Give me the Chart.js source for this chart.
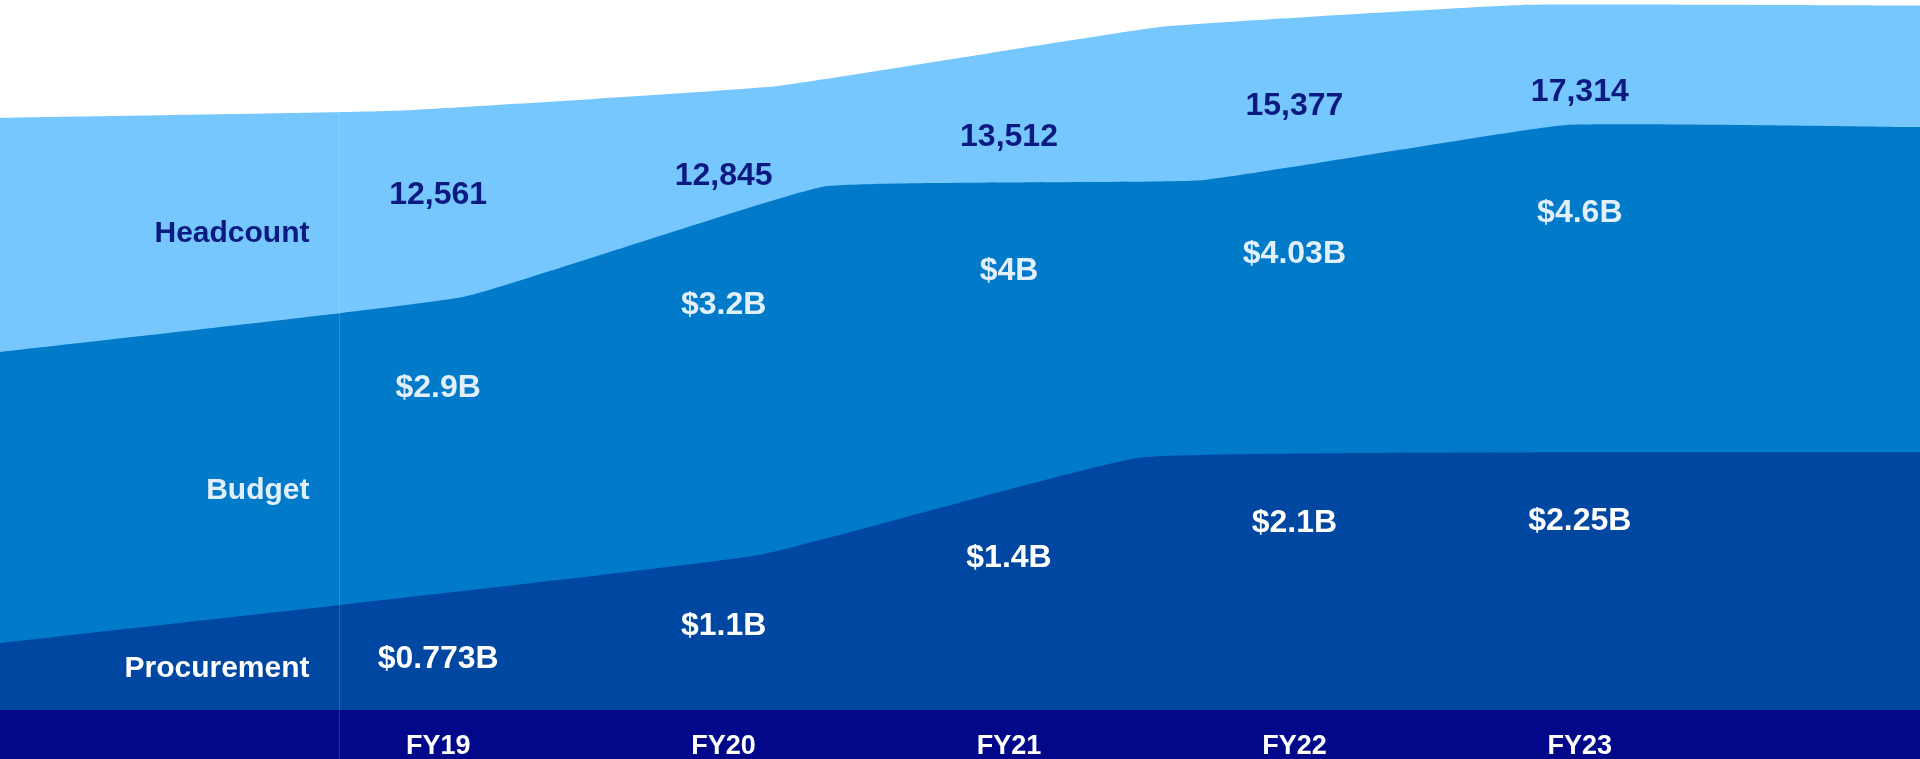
<!DOCTYPE html>
<html>
<head>
<meta charset="utf-8">
<script src="https://cdn.jsdelivr.net/npm/chart.js@4.4.1/dist/chart.umd.min.js"></script>
<style>
  html, body { margin: 0; padding: 0; background: #fff; }
  #wrap { width: 1920px; height: 759px; position: relative; }
</style>
</head>
<body>
<div id="wrap"><canvas id="fy-chart"></canvas></div>
<script>
// fiscal years along the bottom band (tick value 19..23)
const fiscalYears = ['FY19', 'FY20', 'FY21', 'FY22', 'FY23'];
const yearTicks = [19, 20, 21, 22, 23];

// values printed inside each band
const headcountValues = [12561, 12845, 13512, 15377, 17314];
const budgetValues = [2.9, 3.2, 4, 4.03, 4.6];            // $B
const procurementValues = [0.773, 1.1, 1.4, 2.1, 2.25];   // $B

// upper edge of each band as drawn in the graphic (x in fiscal year, y in % of plot height)
const headcountEdgeX = [17.46, 18.85, 20.19, 21.53, 22.80, 24.2];
const headcountEdgeY = [83.4, 84.4, 87.9, 96.2, 99.3, 99.2];
const budgetEdgeX = [17.46, 19.09, 20.35, 21.67, 22.95, 24.2];
const budgetEdgeY = [50.4, 58.2, 73.7, 74.6, 82.4, 82.1];
const procurementEdgeX = [17.46, 20.12, 21.47, 24.2];
const procurementEdgeY = [9.4, 21.8, 35.6, 36.3];

const FONT = '"Liberation Sans", Arial, sans-serif';
const navy = '#01098a';

const toPoints = (xs, ys) => xs.map((x, i) => ({ x: x, y: ys[i] }));
const money = v => '$' + v + 'B';

// dataset index 0 is drawn on top
const bands = [
    { ds: 2, name: 'Headcount', values: headcountValues, fmt: v => v.toLocaleString('en-US'), color: '#0b1a80', offset: 87 },
    { ds: 1, name: 'Budget', values: budgetValues, fmt: money, color: '#e2f0fd', offset: 88 },
    { ds: 0, name: 'Procurement', values: procurementValues, fmt: money, color: '#ffffff', offset: 67 }
];

function edgeAt(chart, dsIndex, px) {
    if (dsIndex < 0) return chart.chartArea.bottom;
    const pts = chart.getDatasetMeta(dsIndex).data;
    for (let i = 0; i < pts.length - 1; i++) {
        const a = pts[i], b = pts[i + 1];
        if (px >= a.x && px <= b.x) {
            return a.y + (b.y - a.y) * (px - a.x) / (b.x - a.x);
        }
    }
    return px < pts[0].x ? pts[0].y : pts[pts.length - 1].y;
}

const bandPlugin = {
    id: 'bandPlugin',
    beforeDraw(chart) {
        const { ctx, chartArea, width, height } = chart;
        ctx.save();
        ctx.fillStyle = '#ffffff';
        ctx.fillRect(0, 0, width, height);
        ctx.fillStyle = navy;
        ctx.fillRect(0, chartArea.bottom, width, height - chartArea.bottom);
        ctx.restore();
    },
    afterDraw(chart) {
        const { ctx, height } = chart;
        const xs = chart.scales.x;
        const divider = Math.round(xs.getPixelForValue(18.652)) + 0.5;

        ctx.save();
        // faint divider between the names and the years
        ctx.strokeStyle = 'rgba(255,255,255,0.16)';
        ctx.lineWidth = 1;
        ctx.beginPath();
        ctx.moveTo(divider, edgeAt(chart, 2, divider));
        ctx.lineTo(divider, height);
        ctx.stroke();

        ctx.textBaseline = 'middle';
        bands.forEach(b => {
            const top = edgeAt(chart, b.ds, divider - 30);
            const bottom = edgeAt(chart, b.ds - 1, divider - 30);
            ctx.fillStyle = b.color;
            ctx.textAlign = 'right';
            ctx.font = 'bold 30px ' + FONT;
            ctx.fillText(b.name, divider - 30, top + 0.6 * (bottom - top));

            ctx.textAlign = 'center';
            ctx.font = 'bold 32px ' + FONT;
            b.values.forEach((v, i) => {
                const px = xs.getPixelForValue(yearTicks[i]);
                ctx.fillText(b.fmt(v), px, edgeAt(chart, b.ds, px) + b.offset);
            });
        });
        ctx.restore();
    }
};

const areaStyle = { pointRadius: 0, borderWidth: 0, tension: 0.1, fill: 'origin' };

new Chart(document.getElementById('fy-chart'), {
    type: 'line',
    data: {
        datasets: [
            { label: 'Procurement', data: toPoints(procurementEdgeX, procurementEdgeY), backgroundColor: '#0047a1', ...areaStyle },
            { label: 'Budget', data: toPoints(budgetEdgeX, budgetEdgeY), backgroundColor: '#007ac9', ...areaStyle },
            { label: 'Headcount', data: toPoints(headcountEdgeX, headcountEdgeY), backgroundColor: '#75c7fe', ...areaStyle }
        ]
    },
    options: {
        responsive: true,
        maintainAspectRatio: false,
        animation: false,
        layout: { padding: 0 },
        plugins: {
            legend: { display: false },
            tooltip: { enabled: false }
        },
        scales: {
            x: {
                type: 'linear',
                min: 17.4646,
                max: 24.192,
                grid: { display: false, drawTicks: false },
                border: { display: false },
                afterBuildTicks: scale => { scale.ticks = yearTicks.map(v => ({ value: v })); },
                afterFit: scale => { scale.height = 49; },
                ticks: {
                    callback: (value, index) => fiscalYears[index],
                    color: '#ffffff',
                    font: { family: FONT, size: 27, weight: 'bold' },
                    padding: 20,
                    maxRotation: 0,
                    autoSkip: false
                }
            },
            y: {
                display: false,
                min: 0,
                max: 100
            }
        }
    },
    plugins: [bandPlugin]
});
</script>
</body>
</html>
